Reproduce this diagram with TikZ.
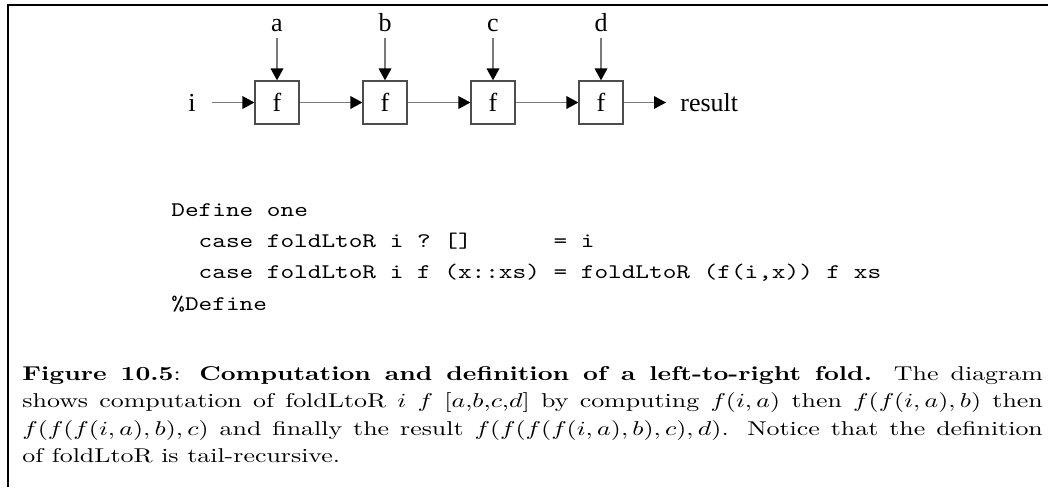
\documentclass[tikz,border=0pt]{standalone}
\usepackage{fontspec}
\newfontfamily\diagfont{Liberation Serif}
\usepackage{graphicx}
\definecolor{linegray}{HTML}{7A7A7A}
\definecolor{boxgray}{HTML}{4D4D4D}
\usetikzlibrary{arrows.meta, positioning}

\begin{document}
\begin{tikzpicture}[x=0.5pt, y=-0.5pt,
    fbox/.style={draw=boxgray, line width=0.6pt, minimum width=22pt, minimum height=21.5pt, inner sep=0pt, font=\diagfont\fontsize{13}{15}\selectfont},
    lbl/.style={inner sep=0pt, text depth=0pt, font=\diagfont\fontsize{13}{15}\selectfont},
    flow/.style={draw=linegray, line width=0.75pt, -{Triangle[color=black, length=6pt, width=6.3pt]}}]
    \useasboundingbox (0,0) rectangle (1048,487);
    % frame
    \draw[line width=1.25pt] (8,487) -- (8,5) -- (1048,5);
    % fold chain
    \foreach \i/\lbl in {0/a, 1/b, 2/c, 3/d} {
        \node[fbox] (f\i) at (277+108*\i, 102.5) {f};
        \node[lbl, anchor=base] (in\i) at (277+108*\i, 32) {\lbl};
        \draw[flow, shorten <=3pt] (in\i) -- (f\i);
    }
    \foreach \i/\j in {0/1, 1/2, 2/3} {
        \draw[flow] (f\i) -- (f\j);
    }
    \node[lbl] (start) at (192, 102.5) {i};
    \draw[flow, shorten <=8pt] (start) -- (f0);
    \node[lbl, anchor=west] (result) at (680, 102.5) {result};
    \draw[flow, shorten >=7pt] (f3) -- (result);
    % definition
    \node[anchor=base west, inner sep=0pt] (code) at (171, 216) {\scalebox{1.3}[1.04]{\parbox[t]{320pt}{\ttfamily\addfontfeature{FakeBold=0.3}\fontsize{10}{15.14}\selectfont
        Define~one\\
        \mbox{}~~case~foldLtoR~i~?~[]~~~~~~=~i\\
        \mbox{}~~case~foldLtoR~i~f~(x::xs)~=~foldLtoR~(f(i,x))~f~xs\\
        \%Define}}};
    % caption
    \node[anchor=base west, inner sep=0pt] (caption) at (22, 380) {\scalebox{1.295}[1.0]{\parbox[t]{394pt}{\fontsize{10}{13.8}\selectfont
        \textbf{Figure 10.5}: \textbf{Computation and definition of a left-to-right fold.} The diagram\linebreak
        shows computation of foldLtoR $i$ $f$ [$a$,$b$,$c$,$d$] by computing $f(i,a)$ then $f(f(i,a),b)$ then\linebreak
        $f(f(f(i,a),b),c)$ and finally the result $f(f(f(f(i,a),b),c),d)$. Notice that the definition\linebreak
        of foldLtoR is tail-recursive.}}};
\end{tikzpicture}
\end{document}
